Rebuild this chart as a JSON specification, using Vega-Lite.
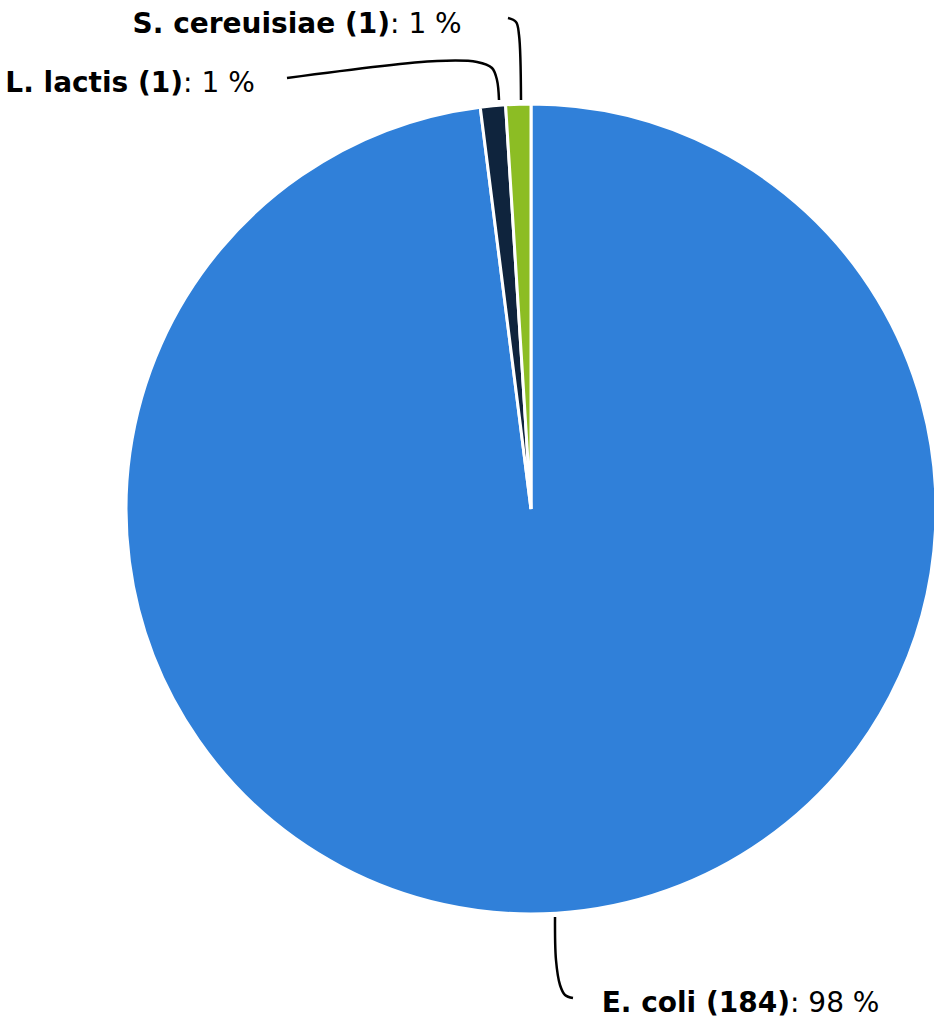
{
  "$schema": "https://vega.github.io/schema/vega-lite/v6.json",
  "autosize": {"type": "none"},
  "width": 810,
  "height": 810,
  "padding": {"left": 126, "top": 104, "right": 0, "bottom": 111},
  "background": "white",
  "config": {"view": {"stroke": null}},
  "datasets": {
    "slices": [
      {"species": "E. coli", "count": 184, "percent": 98, "k": 1},
      {"species": "L. lactis", "count": 1, "percent": 1, "k": 2},
      {"species": "S. cereuisiae", "count": 1, "percent": 1, "k": 3}
    ],
    "labels": [
      {"species": "E. coli", "name": "E. coli (184)", "pct": ": 98 %", "lx": 0.6395, "ly": -1.242},
      {"species": "L. lactis", "name": "L. lactis (1)", "pct": ": 1 %", "lx": -0.859, "ly": 1.03},
      {"species": "S. cereuisiae", "name": "S. cereuisiae (1)", "pct": ": 1 %", "lx": -0.348, "ly": 1.175}
    ],
    "leaders": [
      {"species": "E. coli", "i": 1, "px": 0.0593, "py": -1.0074},
      {"species": "E. coli", "i": 2, "px": 0.0617, "py": -1.1136},
      {"species": "E. coli", "i": 3, "px": 0.0716, "py": -1.1753},
      {"species": "E. coli", "i": 4, "px": 0.084, "py": -1.2},
      {"species": "E. coli", "i": 5, "px": 0.1037, "py": -1.2074},
      {"species": "L. lactis", "i": 1, "px": -0.6025, "py": 1.0642},
      {"species": "L. lactis", "i": 2, "px": -0.2321, "py": 1.1062},
      {"species": "L. lactis", "i": 3, "px": -0.1333, "py": 1.1037},
      {"species": "L. lactis", "i": 4, "px": -0.0963, "py": 1.0889},
      {"species": "L. lactis", "i": 5, "px": -0.084, "py": 1.0593},
      {"species": "L. lactis", "i": 6, "px": -0.079, "py": 1.0099},
      {"species": "S. cereuisiae", "i": 1, "px": -0.0568, "py": 1.2123},
      {"species": "S. cereuisiae", "i": 2, "px": -0.037, "py": 1.2025},
      {"species": "S. cereuisiae", "i": 3, "px": -0.0296, "py": 1.1704},
      {"species": "S. cereuisiae", "i": 4, "px": -0.0247, "py": 1.0099}
    ]
  },
  "layer": [
    {
      "data": {"name": "slices"},
      "mark": {"type": "arc", "stroke": "white", "strokeWidth": 3},
      "encoding": {
        "theta": {"field": "percent", "type": "quantitative", "stack": true},
        "order": {"field": "k", "type": "quantitative"},
        "color": {
          "field": "species",
          "type": "nominal",
          "legend": null,
          "scale": {
            "domain": ["E. coli", "L. lactis", "S. cereuisiae"],
            "range": ["#3080d9", "#0f243d", "#8cbd24"]
          }
        }
      }
    },
    {
      "data": {"name": "leaders"},
      "mark": {"type": "line", "color": "black", "strokeWidth": 2.5, "interpolate": "catmull-rom"},
      "encoding": {
        "x": {"field": "px", "type": "quantitative", "axis": null, "scale": {"domain": [-1, 1], "nice": false, "zero": false}},
        "y": {"field": "py", "type": "quantitative", "axis": null, "scale": {"domain": [-1, 1], "nice": false, "zero": false}},
        "detail": {"field": "species"},
        "order": {"field": "i", "type": "quantitative"}
      }
    },
    {
      "data": {"name": "labels"},
      "mark": {"type": "text", "font": "DejaVu Sans", "fontSize": 28, "fontWeight": "bold", "align": "right", "baseline": "alphabetic", "color": "black"},
      "encoding": {
        "x": {"field": "lx", "type": "quantitative", "axis": null, "scale": {"domain": [-1, 1], "nice": false, "zero": false}},
        "y": {"field": "ly", "type": "quantitative", "axis": null, "scale": {"domain": [-1, 1], "nice": false, "zero": false}},
        "text": {"field": "name"}
      }
    },
    {
      "data": {"name": "labels"},
      "mark": {"type": "text", "font": "DejaVu Sans", "fontSize": 28, "fontWeight": "normal", "align": "left", "baseline": "alphabetic", "color": "black"},
      "encoding": {
        "x": {"field": "lx", "type": "quantitative", "axis": null, "scale": {"domain": [-1, 1], "nice": false, "zero": false}},
        "y": {"field": "ly", "type": "quantitative", "axis": null, "scale": {"domain": [-1, 1], "nice": false, "zero": false}},
        "text": {"field": "pct"}
      }
    }
  ]
}
